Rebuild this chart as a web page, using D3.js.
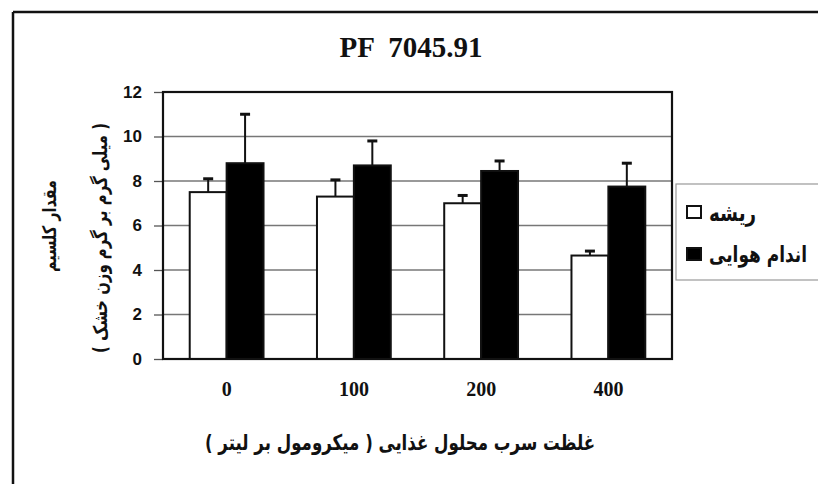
<!DOCTYPE html>
<html><head><meta charset="utf-8">
<script src="https://cdn.jsdelivr.net/npm/d3@7"></script>
<style>html,body{margin:0;padding:0;background:#fff;}svg{display:block;}</style>
</head><body>
<svg id="chart" width="818" height="484"></svg>
<script>
const title = "PF  7045.91";
const categories = ["0", "100", "200", "400"];
const seriesNames = ["ریشه", "اندام هوایی"];
const rootValues = [7.5, 7.3, 7.0, 4.65];
const rootErrors = [0.6, 0.75, 0.35, 0.2];
const shootValues = [8.8, 8.7, 8.45, 7.75];
const shootErrors = [2.2, 1.1, 0.45, 1.05];
const yTicks = [0, 2, 4, 6, 8, 10, 12];
const xTitle = "غلظت سرب محلول غذایی ( میکرومول بر لیتر )";
const yTitle1 = "مقدار کلسیم";
const yTitle2 = "( میلی گرم بر گرم وزن خشک )";

const svg = d3.select("#chart");
const arabicFont = "'DejaVu Sans', sans-serif";
const stretch = 1.3;

function fit(sel, w) {
  const cur = sel.node().getComputedTextLength();
  const fs = parseFloat(sel.attr("font-size"));
  sel.attr("font-size", (fs * w / cur).toFixed(2));
}

// outer frame (top & left lines)
svg.append("line").attr("x1", 13).attr("x2", 818).attr("y1", 12).attr("y2", 12).attr("stroke", "#111").attr("stroke-width", 2.5);
svg.append("line").attr("x1", 13).attr("x2", 13).attr("y1", 12).attr("y2", 484).attr("stroke", "#111").attr("stroke-width", 2.5);

const plot = {left: 163, right: 672, top: 92, bottom: 359};
const y = d3.scaleLinear().domain([0, 12]).range([plot.bottom, plot.top]);
const x0 = d3.scaleBand().domain(categories).range([plot.left, plot.right]).paddingInner(0.42).paddingOuter(0.21);
const x1 = d3.scaleBand().domain([0, 1]).range([0, x0.bandwidth()]);

// gridlines
svg.append("g").selectAll("line").data(yTicks.filter(d => d > 0 && d < 12)).join("line")
  .attr("x1", plot.left).attr("x2", plot.right)
  .attr("y1", d => y(d)).attr("y2", d => y(d))
  .attr("stroke", "#777").attr("stroke-width", 1.3);

// y axis
const yAxis = svg.append("g").attr("transform", `translate(${plot.left},0)`)
  .call(d3.axisLeft(y).tickValues(yTicks).tickSize(9).tickPadding(12).tickFormat(d3.format("d")));
yAxis.select(".domain").remove();
yAxis.selectAll(".tick line").attr("stroke", "#555").attr("stroke-width", 1.3);
yAxis.selectAll("text").attr("font-family", "'Liberation Sans', Arial, sans-serif").attr("font-weight", "bold").attr("font-size", 17).attr("fill", "#111");

// bars
const data = categories.map((c, i) => ({c, vals: [
  {s: 0, v: rootValues[i], e: rootErrors[i]},
  {s: 1, v: shootValues[i], e: shootErrors[i]}]}));
const groups = svg.append("g").selectAll("g").data(data).join("g")
  .attr("transform", d => `translate(${x0(d.c)},0)`);
groups.selectAll("line.err").data(d => d.vals).join("line").attr("class", "err")
  .attr("x1", d => x1(d.s) + x1.bandwidth() / 2).attr("x2", d => x1(d.s) + x1.bandwidth() / 2)
  .attr("y1", d => y(d.v)).attr("y2", d => y(d.v + d.e))
  .attr("stroke", "#111").attr("stroke-width", 2);
groups.selectAll("line.cap").data(d => d.vals).join("line").attr("class", "cap")
  .attr("x1", d => x1(d.s) + x1.bandwidth() / 2 - 5).attr("x2", d => x1(d.s) + x1.bandwidth() / 2 + 5)
  .attr("y1", d => y(d.v + d.e)).attr("y2", d => y(d.v + d.e))
  .attr("stroke", "#111").attr("stroke-width", 3);
groups.selectAll("rect").data(d => d.vals).join("rect")
  .attr("x", d => x1(d.s)).attr("width", x1.bandwidth())
  .attr("y", d => y(d.v)).attr("height", d => y(0) - y(d.v))
  .attr("fill", d => d.s === 0 ? "#fff" : "#000")
  .attr("stroke", "#111").attr("stroke-width", 2);

// plot border
svg.append("rect").attr("x", plot.left).attr("y", plot.top)
  .attr("width", plot.right - plot.left).attr("height", plot.bottom - plot.top)
  .attr("fill", "none").attr("stroke", "#111").attr("stroke-width", 2.2);

// x axis labels
const xAxis = svg.append("g").attr("transform", `translate(0,${plot.bottom})`)
  .call(d3.axisBottom(x0).tickSize(0).tickPadding(23));
xAxis.select(".domain").remove();
xAxis.selectAll("text").attr("font-family", "'Liberation Serif', 'Times New Roman', serif").attr("font-weight", "bold").attr("font-size", 20).attr("fill", "#111");

// title
svg.append("text").attr("x", 411).attr("y", 57).attr("text-anchor", "middle")
  .attr("font-family", "'Liberation Serif', 'Times New Roman', serif").attr("font-weight", "bold")
  .attr("font-size", 29).attr("fill", "#111").style("white-space", "pre").text(title);

// x title
const xt = svg.append("text").attr("transform", `translate(400,443) scale(1,${stretch})`).attr("text-anchor", "middle")
  .attr("dominant-baseline", "central")
  .attr("direction", "rtl").attr("font-family", arabicFont).attr("font-weight", "bold")
  .attr("font-size", 15).attr("fill", "#111").text(xTitle);
fit(xt, 390);

// y titles
const yt1 = svg.append("text").attr("transform", `translate(49,226) rotate(-90) scale(1,${stretch})`).attr("text-anchor", "middle")
  .attr("dominant-baseline", "central")
  .attr("font-family", arabicFont).attr("font-weight", "bold").attr("font-size", 14).attr("fill", "#111").text(yTitle1);
fit(yt1, 92);
const yt2 = svg.append("text").attr("transform", `translate(100,238) rotate(-90) scale(1,${stretch})`).attr("text-anchor", "middle")
  .attr("dominant-baseline", "central")
  .attr("font-family", arabicFont).attr("font-weight", "bold").attr("font-size", 14).attr("fill", "#111").text(yTitle2);
fit(yt2, 230);

// legend
svg.append("rect").attr("x", 676).attr("y", 184).attr("width", 150).attr("height", 96)
  .attr("fill", "#fff").attr("stroke", "#999").attr("stroke-width", 1.2);
const leg = svg.append("g").selectAll("g").data(seriesNames).join("g")
  .attr("transform", (d, i) => `translate(687,${206 + i * 42})`);
leg.append("rect").attr("width", 14).attr("height", 12)
  .attr("fill", (d, i) => i === 0 ? "#fff" : "#000").attr("stroke", "#111").attr("stroke-width", 2);
const legTexts = leg.append("text").attr("transform", `translate(22,7) scale(1,${stretch})`)
  .attr("dominant-baseline", "central")
  .attr("font-family", arabicFont).attr("font-weight", "bold").attr("font-size", 15).attr("fill", "#111")
  .text(d => d);
legTexts.each(function(d, i) { fit(d3.select(this), i === 0 ? 47 : 98); });
</script>
</body></html>
